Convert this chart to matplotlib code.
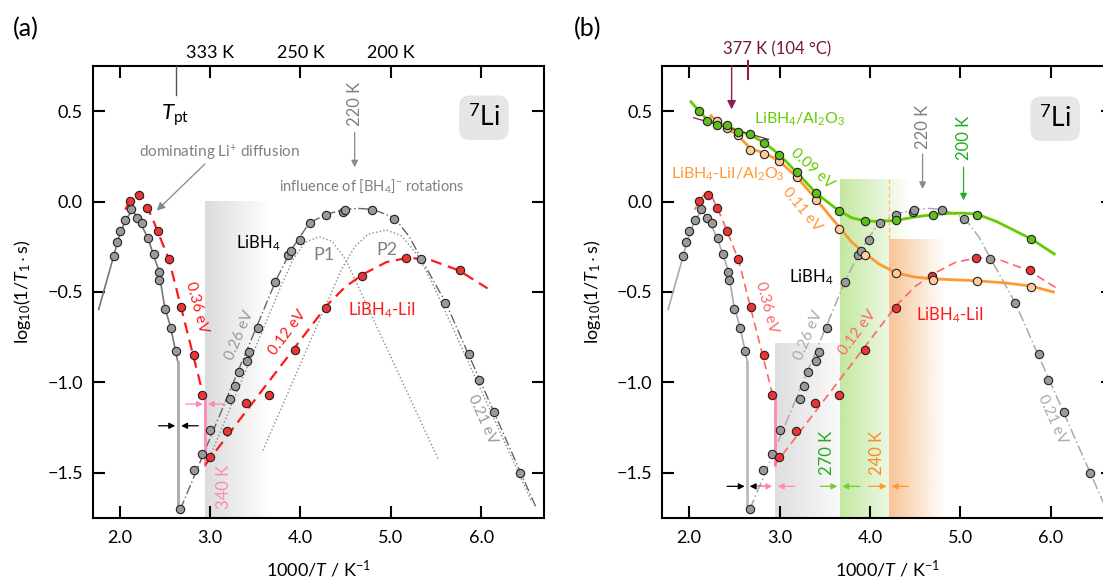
import matplotlib
matplotlib.use("Agg")
import matplotlib.pyplot as plt
import numpy as np
from matplotlib.colors import to_rgb
from matplotlib.transforms import blended_transform_factory

plt.rcParams["font.family"] = ["Lato", "DejaVu Sans"]
plt.rcParams["mathtext.fontset"] = "custom"
plt.rcParams["mathtext.rm"] = "Lato"
plt.rcParams["mathtext.it"] = "Lato:italic"
plt.rcParams["mathtext.bf"] = "Lato:bold"
plt.rcParams["axes.unicode_minus"] = True

# LiBH4, grey circles
libh4_x = [1.937, 1.968, 2.004, 2.063, 2.126, 2.193, 2.249, 2.315, 2.375, 2.434, 2.438,
           2.497, 2.564, 2.619, 2.671, 2.820, 2.915, 3.002, 3.223, 3.274, 3.318, 3.404,
           3.432, 3.530, 3.724, 3.866, 3.897, 3.992, 4.107, 4.284, 4.473, 4.493, 4.797,
           5.038, 5.334, 5.601, 5.870, 5.973, 6.146, 6.434]
libh4_y = [-0.302, -0.223, -0.164, -0.103, -0.039, -0.090, -0.118, -0.203, -0.291, -0.387, -0.436,
           -0.593, -0.698, -0.827, -1.703, -1.482, -1.394, -1.263, -1.092, -1.022, -0.941, -0.884,
           -0.832, -0.700, -0.442, -0.298, -0.275, -0.212, -0.118, -0.074, -0.055, -0.044, -0.048,
           -0.096, -0.320, -0.562, -0.845, -0.985, -1.162, -1.501]

# LiBH4-LiI, red circles
lii_x = [2.114, 2.209, 2.308, 2.422, 2.544, 2.679, 2.828, 2.915, 2.998, 3.187, 3.396,
         3.657, 3.944, 4.284, 4.686, 5.172, 5.771]
lii_y = [0.004, 0.035, -0.033, -0.164, -0.320, -0.582, -0.849, -1.068, -1.413, -1.271, -1.116,
         -1.068, -0.823, -0.586, -0.409, -0.313, -0.381]

# LiBH4/Al2O3, green circles
al_x = [2.111, 2.203, 2.307, 2.418, 2.541, 2.676, 2.833, 2.998, 3.190, 3.401, 3.662,
        3.950, 4.288, 4.695, 5.182, 5.781]
al_y = [0.501, 0.448, 0.425, 0.425, 0.383, 0.372, 0.322, 0.258, 0.162, 0.050, -0.052,
        -0.107, -0.101, -0.074, -0.072, -0.208]

# LiBH4-LiI/Al2O3, orange circles
lial_x = [2.303, 2.418, 2.541, 2.676, 2.833, 2.998, 3.190, 3.401, 3.655, 3.950, 4.288,
          4.695, 5.182, 5.781]
lial_y = [0.446, 0.407, 0.366, 0.287, 0.263, 0.225, 0.136, 0.009, -0.153, -0.295, -0.396,
          -0.433, -0.438, -0.470]

# fitted curves
libh4_hi_x = [1.768, 1.85, 1.937, 1.982, 2.063, 2.11, 2.147, 2.20, 2.313, 2.431, 2.497, 2.564, 2.645]
libh4_hi_y = [-0.596, -0.45, -0.296, -0.213, -0.102, -0.07, -0.056, -0.084, -0.204, -0.378, -0.581, -0.695, -0.890]
libh4_pt_x = [2.645, 2.645]
libh4_pt_y = [-0.890, -1.70]

libh4_lo_x = [2.671, 3.731, 3.897, 4.10, 4.284, 4.486, 4.65, 4.80, 5.04, 5.204, 5.334, 5.61, 6.613]
libh4_lo_y = [-1.703, -0.434, -0.268, -0.117, -0.071, -0.043, -0.038, -0.043, -0.089, -0.194, -0.314, -0.562, -1.699]

p1_x = [3.00, 3.80, 3.92, 4.05, 4.21, 4.35, 4.50, 5.528]
p1_y = [-1.41, -0.45, -0.32, -0.225, -0.194, -0.22, -0.32, -1.428]
p2_x = [3.584, 4.45, 4.60, 4.75, 4.95, 5.12, 5.30, 5.45, 6.55]
p2_y = [-1.377, -0.38, -0.25, -0.18, -0.157, -0.19, -0.30, -0.44, -1.65]

lii_hi_x = [2.063, 2.11, 2.16, 2.21, 2.26, 2.30, 2.36, 2.417, 2.545, 2.921]
lii_hi_y = [-0.045, 0.005, 0.035, 0.045, 0.02, -0.025, -0.09, -0.161, -0.32, -1.063]
lii_jump_x = [2.947, 2.947]
lii_jump_y = [-1.063, -1.456]
lii_lo_x = [2.947, 4.30, 4.50, 4.70, 4.95, 5.20, 5.45, 5.75, 6.07]
lii_lo_y = [-1.456, -0.57, -0.47, -0.40, -0.335, -0.31, -0.325, -0.38, -0.48]

al_fit_x = [2.02, 2.111, 2.203, 2.307, 2.418, 2.541, 2.676, 2.833, 2.998, 3.19, 3.40, 3.55,
            3.662, 3.80, 3.95, 4.10, 4.30, 4.50, 4.70, 4.90, 5.05, 5.19, 5.40, 5.60, 5.79, 6.04]
al_fit_y = [0.552, 0.50, 0.452, 0.428, 0.420, 0.390, 0.370, 0.325, 0.26, 0.162, 0.05, -0.01,
            -0.052, -0.09, -0.107, -0.11, -0.103, -0.085, -0.072, -0.064, -0.064, -0.07, -0.11,
            -0.16, -0.208, -0.29]
lial_fit_x = [2.242, 2.303, 2.418, 2.53, 2.68, 2.826, 2.99, 3.19, 3.40, 3.55, 3.66, 3.80,
              3.956, 4.10, 4.29, 4.50, 4.697, 5.0, 5.18, 5.50, 5.79, 6.03]
lial_fit_y = [0.475, 0.446, 0.405, 0.37, 0.293, 0.269, 0.228, 0.136, 0.017, -0.075, -0.14, -0.225,
              -0.29, -0.345, -0.394, -0.418, -0.427, -0.434, -0.438, -0.45, -0.468, -0.50]

tangent_x = [2.048, 2.88]
tangent_y = [0.464, 0.344]

top_ticks = [3.0, 4.0, 5.0]
top_labels = ["333 K", "250 K", "200 K"]

GREY_PT = "#9a9a9a"
RED_PT = "#ee3333"
GREEN_PT = "#5cbf1a"
ORANGE_PT = "#ffcc99"
GREEN = "#66cc00"
ORANGE = "#ff9933"
PINK = "#ff88bb"
TXT_GREY = "#808080"
MAROON = "#8b1f55"


def gradient(ax, x0, x1, y0, y1, color, a0=1.0, a1=0.0):
    rgb = to_rgb(color)
    img = np.zeros((2, 256, 4))
    img[..., :3] = rgb
    img[..., 3] = np.linspace(a0, a1, 256)[None, :]
    ax.imshow(img, extent=(x0, x1, y0, y1), aspect="auto", origin="lower",
              interpolation="bilinear", zorder=0)


def arrow(ax, tail, tip, color, lw=1.0, ms=10, style="-|>"):
    ax.annotate("", xy=tip, xytext=tail,
                arrowprops=dict(arrowstyle=style, color=color, lw=lw,
                                mutation_scale=ms, shrinkA=0, shrinkB=0))


def setup_axes(ax):
    ax.set_xlim(1.70, 6.69)
    ax.set_ylim(-1.75, 0.75)
    ax.set_xticks([2.0, 3.0, 4.0, 5.0, 6.0])
    ax.set_xticklabels(["2.0", "3.0", "4.0", "5.0", "6.0"])
    ax.set_yticks([-1.5, -1.0, -0.5, 0.0, 0.5])
    ax.set_yticklabels(["\u22121.5", "\u22121.0", "\u22120.5", "0.0", "0.5"])
    ax.tick_params(direction="in", length=8.5, width=1.5, top=True, right=True,
                   labelsize=13, pad=7)
    ax.tick_params(axis="x", pad=9)
    for s in ax.spines.values():
        s.set_linewidth(1.5)
    ax.set_xlabel(r"1000/$T$ / K$^{-1}$", fontsize=13, labelpad=9)
    ax.set_ylabel(r"log$_{10}$(1/$T_1\cdot$s)", fontsize=13, labelpad=10)


def li7_box(ax, x, y):
    ax.text(x, y, r"$^{7}$Li", fontsize=19, ha="center", va="center",
            bbox=dict(boxstyle="round,pad=0.33,rounding_size=0.4", fc="#e6e6e6", ec="none"),
            zorder=6)


def pts(ax, x, y, fc):
    ax.plot(x, y, "o", ms=6, mfc=fc, mec="#222222", mew=0.8, zorder=5, ls="none")


fig = plt.figure(figsize=(11.03, 5.82), dpi=100)
ax_a = fig.add_axes([0.0839, 0.110, 0.4089, 0.7766])
ax_b = fig.add_axes([0.6002, 0.110, 0.4089, 0.7766])

# ================= panel (a) =================
ax = ax_a
gradient(ax, 2.94, 3.66, -1.75, 0.0, "#dcdcdc", 1.0, 0.0)

ax.plot(libh4_hi_x, libh4_hi_y, "-", color="#777777", lw=1.2, zorder=2)
ax.plot(libh4_pt_x, libh4_pt_y, "-", color="#aaaaaa", lw=2.0, zorder=2)
ax.plot(libh4_lo_x, libh4_lo_y, color="#666666", lw=1.0, dashes=(7, 2, 1, 2), zorder=2)
ax.plot(p1_x, p1_y, ":", color="#8a8a8a", lw=1.0, zorder=2)
ax.plot(p2_x, p2_y, ":", color="#8a8a8a", lw=1.0, zorder=2)
ax.plot(lii_hi_x, lii_hi_y, color="#ff1a1a", lw=1.6, dashes=(5, 3), zorder=3)
ax.plot(lii_jump_x, lii_jump_y, "-", color=PINK, lw=2.0, zorder=3)
ax.plot(lii_lo_x, lii_lo_y, color="#ff1a1a", lw=1.6, dashes=(5, 3), zorder=3)

pts(ax, libh4_x, libh4_y, GREY_PT)
pts(ax, lii_x, lii_y, RED_PT)

arrow(ax, (2.73, -1.12), (2.92, -1.12), PINK, lw=0.9, ms=9)
arrow(ax, (3.17, -1.12), (2.975, -1.12), PINK, lw=0.9, ms=9)
arrow(ax, (2.43, -1.24), (2.615, -1.24), "black", lw=0.9, ms=9)
arrow(ax, (2.87, -1.24), (2.68, -1.24), "black", lw=0.9, ms=9)

setup_axes(ax)
trans = blended_transform_factory(ax.transData, ax.transAxes)
for xt, lab in zip(top_ticks, top_labels):
    ax.text(xt, 1.028, lab, transform=trans, ha="center", va="center", fontsize=13)

ax.plot([2.62, 2.62], [0.75, 0.588], "-", color="#555555", lw=1.0, zorder=3, clip_on=False)
ax.text(2.61, 0.478, r"$T_{\rm pt}$", fontsize=16, ha="center", va="center")

ax.text(3.107, 0.27, r"dominating Li$^{+}$ diffusion", fontsize=11, color=TXT_GREY,
        ha="center", va="center")
arrow(ax, (2.943, 0.208), (2.41, -0.05), "#888888", lw=0.9, ms=12)
ax.text(4.79, 0.086, r"influence of [BH$_4$]$^{-}$ rotations", fontsize=10.5, color=TXT_GREY,
        ha="center", va="center")
ax.text(4.6, 0.54, "220 K", fontsize=12, color=TXT_GREY, rotation=90, ha="center", va="center")
arrow(ax, (4.6, 0.383), (4.6, 0.19), "#888888", lw=0.9, ms=10)

ax.text(3.535, -0.231, r"LiBH$_4$", fontsize=12, ha="center", va="center")
ax.text(4.257, -0.296, "P1", fontsize=13, color=TXT_GREY, ha="center", va="center")
ax.text(4.956, -0.265, "P2", fontsize=13, color=TXT_GREY, ha="center", va="center")
ax.text(4.90, -0.603, r"LiBH$_4$-LiI", fontsize=12, color="#ff1a1a", ha="center", va="center")
ax.text(2.855, -0.585, "0.36 eV", fontsize=11, color="#ff1a1a", rotation=-75,
        ha="center", va="center")
ax.text(3.33, -0.74, "0.26 eV", fontsize=11, color="#999999", rotation=67,
        ha="center", va="center")
ax.text(3.86, -0.725, "0.12 eV", fontsize=11, color="#ff1a1a", rotation=53,
        ha="center", va="center")
ax.text(6.01, -1.207, "0.21 eV", fontsize=11, color="#999999", rotation=-66,
        ha="center", va="center")
ax.text(3.15, -1.58, "340 K", fontsize=12, color=PINK, rotation=90, ha="center", va="center")
li7_box(ax, 6.03, 0.464)

# ================= panel (b) =================
ax = ax_b
gradient(ax, 2.948, 3.667, -1.75, -0.786, "#dedede", 1.0, 0.15)
gradient(ax, 3.667, 4.45, -1.75, 0.125, "#c3e8a0", 1.0, 0.0)
gradient(ax, 4.21, 4.82, -1.75, -0.21, "#f8c598", 1.0, 0.0)
ax.plot([4.215, 4.215], [0.125, -0.21], color="#ffbb80", lw=1.0, dashes=(3, 2), zorder=1)

ax.plot(libh4_hi_x, libh4_hi_y, "-", color="#aaaaaa", lw=1.2, zorder=2)
ax.plot(libh4_pt_x, libh4_pt_y, "-", color="#bbbbbb", lw=2.0, zorder=2)
ax.plot(libh4_lo_x, libh4_lo_y, color="#aaaaaa", lw=1.1, dashes=(7, 2, 1, 2), zorder=2)
ax.plot(lii_hi_x, lii_hi_y, color="#ff6666", lw=1.2, dashes=(5, 3), zorder=3)
ax.plot(lii_jump_x, lii_jump_y, "-", color=PINK, lw=2.0, zorder=3)
ax.plot(lii_lo_x, lii_lo_y, color="#ff6666", lw=1.2, dashes=(5, 3), zorder=3)
ax.plot(al_fit_x, al_fit_y, "-", color=GREEN, lw=2.0, zorder=4)
ax.plot(lial_fit_x, lial_fit_y, "-", color=ORANGE, lw=2.0, zorder=4)
ax.plot(tangent_x, tangent_y, "-", color=MAROON, lw=0.9, zorder=4)

pts(ax, libh4_x, libh4_y, GREY_PT)
pts(ax, lii_x, lii_y, RED_PT)
pts(ax, lial_x, lial_y, ORANGE_PT)
pts(ax, al_x, al_y, GREEN_PT)

yarr = -1.575
arrow(ax, (2.42, yarr), (2.615, yarr), "black", lw=0.9, ms=9)
arrow(ax, (2.83, yarr), (2.67, yarr), "black", lw=0.9, ms=9)
arrow(ax, (2.75, yarr), (2.92, yarr), PINK, lw=0.9, ms=9)
arrow(ax, (3.17, yarr), (2.98, yarr), PINK, lw=0.9, ms=9)
arrow(ax, (3.45, yarr), (3.64, yarr), "#77cc33", lw=0.9, ms=9)
arrow(ax, (3.89, yarr), (3.695, yarr), "#77cc33", lw=0.9, ms=9)
arrow(ax, (3.98, yarr), (4.185, yarr), ORANGE, lw=0.9, ms=9)
arrow(ax, (4.43, yarr), (4.24, yarr), ORANGE, lw=0.9, ms=9)

setup_axes(ax)

ax.text(2.97, 0.841, "377 K (104 \u00b0C)", fontsize=12, color="#6e1a30",
        ha="center", va="center", clip_on=False)
ax.plot([2.656, 2.656], [0.78, 0.68], "-", color=MAROON, lw=1.5, clip_on=False, zorder=6)
arrow(ax, (2.47, 0.75), (2.47, 0.51), MAROON, lw=1.0, ms=13)

ax.text(3.22, 0.457, r"LiBH$_4$/Al$_2$O$_3$", fontsize=11.5, color=GREEN, ha="center", va="center")
ax.text(3.36, 0.185, "0.09 eV", fontsize=11, color=GREEN, rotation=-42, ha="center", va="center")
ax.text(2.428, 0.151, r"LiBH$_4$-LiI/Al$_2$O$_3$", fontsize=11.5, color=ORANGE,
        ha="center", va="center")
ax.text(3.25, -0.045, "0.11 eV", fontsize=11, color=ORANGE, rotation=-50, ha="center", va="center")

ax.text(4.583, 0.415, "220 K", fontsize=12, color=TXT_GREY, rotation=90, ha="center", va="center")
arrow(ax, (4.583, 0.263), (4.583, 0.07), "#888888", lw=0.9, ms=10)
ax.text(5.036, 0.352, "200 K", fontsize=12, color="#22aa22", rotation=90, ha="center", va="center")
arrow(ax, (5.036, 0.19), (5.036, 0.007), "#22aa22", lw=0.9, ms=10)

ax.text(3.35, -0.42, r"LiBH$_4$", fontsize=12, ha="center", va="center")
ax.text(4.88, -0.63, r"LiBH$_4$-LiI", fontsize=12, color="#ff1a1a", ha="center", va="center")
ax.text(2.857, -0.585, "0.36 eV", fontsize=11, color="#ff6666", rotation=-75,
        ha="center", va="center")
ax.text(3.325, -0.74, "0.26 eV", fontsize=11, color="#aaaaaa", rotation=67,
        ha="center", va="center")
ax.text(3.862, -0.725, "0.12 eV", fontsize=11, color="#ff6666", rotation=53,
        ha="center", va="center")
ax.text(6.023, -1.207, "0.21 eV", fontsize=11, color="#aaaaaa", rotation=-66,
        ha="center", va="center")
ax.text(3.53, -1.39, "270 K", fontsize=12, color="#22aa22", rotation=90, ha="center", va="center")
ax.text(4.078, -1.39, "240 K", fontsize=12, color="#ff8822", rotation=90, ha="center", va="center")
li7_box(ax, 6.05, 0.458)

fig.text(0.0236, 0.950, "(a)", fontsize=18, ha="center", va="center")
fig.text(0.533, 0.950, "(b)", fontsize=18, ha="center", va="center")

fig.savefig("out.png", dpi=100)
